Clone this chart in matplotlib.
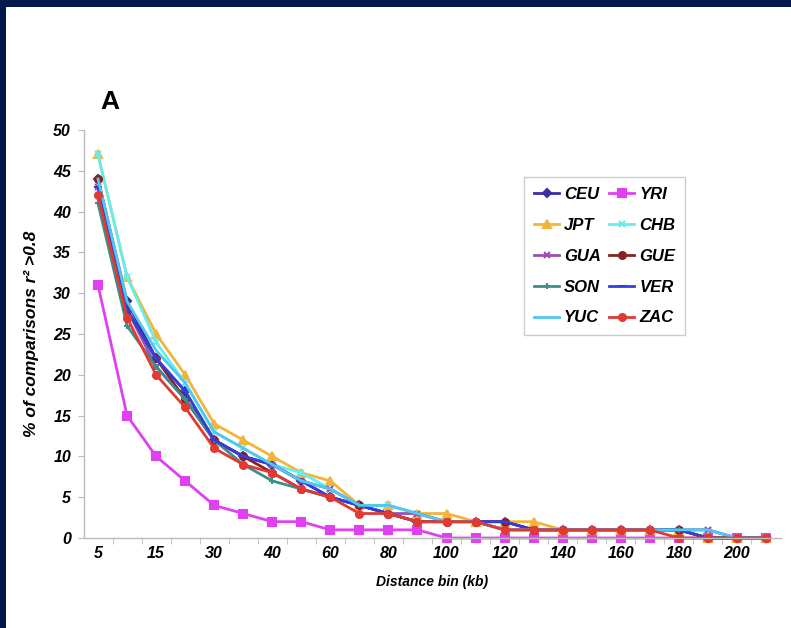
"""LD decay by distance bin, panel A."""

import matplotlib

matplotlib.use("Agg")

import matplotlib.pyplot as plt                 # noqa: E402
from matplotlib.patches import Rectangle       # noqa: E402

# distance bins (kb); Excel only labels every other category
bins = [5, 10, 15, 20, 30, 35, 40, 50, 60, 70, 80, 90, 100, 110, 120,
        130, 140, 150, 160, 170, 180, 190, 200, 210]

CEU = [44, 29, 22, 18, 12, 10, 9, 7, 5, 4, 3, 2, 2, 2, 2, 1, 1, 1, 1, 1, 1, 0, 0, 0]
YRI = [31, 15, 10, 7, 4, 3, 2, 2, 1, 1, 1, 1, 0, 0, 0, 0, 0, 0, 0, 0, 0, 0, 0, 0]
JPT = [47, 32, 25, 20, 14, 12, 10, 8, 7, 4, 4, 3, 3, 2, 2, 2, 1, 1, 1, 1, 1, 0, 0, 0]
CHB = [47, 32, 24, 19, 13, 11, 9, 8, 6, 4, 4, 3, 2, 2, 1, 1, 1, 1, 1, 1, 1, 1, 0, 0]
GUA = [43, 28, 21, 17, 12, 10, 9, 7, 6, 4, 3, 3, 2, 2, 1, 1, 1, 1, 1, 1, 1, 1, 0, 0]
GUE = [44, 28, 22, 17, 12, 10, 8, 6, 5, 4, 3, 2, 2, 2, 2, 1, 1, 1, 1, 1, 1, 0, 0, 0]
SON = [41, 26, 21, 17, 12, 9, 7, 6, 5, 4, 3, 2, 2, 2, 1, 1, 1, 1, 1, 1, 1, 0, 0, 0]
VER = [43, 28, 22, 18, 12, 10, 9, 7, 5, 4, 3, 2, 2, 2, 2, 1, 1, 1, 1, 1, 1, 0, 0, 0]
YUC = [44, 29, 23, 19, 13, 11, 9, 7, 6, 4, 4, 3, 2, 2, 1, 1, 1, 1, 1, 1, 1, 1, 0, 0]
ZAC = [42, 27, 20, 16, 11, 9, 8, 6, 5, 3, 3, 2, 2, 2, 1, 1, 1, 1, 1, 1, 0, 0, 0, 0]

# name, values, colour, marker, marker size
series = [
    ("CEU", CEU, "#3b2f9e", "D", 4),
    ("YRI", YRI, "#e040f0", "s", 6),
    ("JPT", JPT, "#f2b43a", "^", 6),
    ("CHB", CHB, "#66eeee", "x", 5),
    ("GUA", GUA, "#9b4fb0", "x", 5),
    ("GUE", GUE, "#8e1f1f", "o", 5),
    ("SON", SON, "#3a8f8a", "+", 5),
    ("VER", VER, "#2f3fe0", "_", 6),
    ("YUC", YUC, "#50c8f0", "", 0),
    ("ZAC", ZAC, "#e03a32", "o", 5),
]

FONT = "Liberation Sans"

fig = plt.figure(figsize=(7.91, 6.28), dpi=100, facecolor="#02184a")
fig.patches.append(Rectangle((6 / 791, 0), 1, 1 - 7 / 628, transform=fig.transFigure,
                             facecolor="white", edgecolor="none", zorder=-10))

ax = fig.add_axes([83.5 / 791, 90 / 628, 697 / 791, 408 / 628])
ax.set_facecolor("white")

x = list(range(len(bins)))
handles = {}
for name, vals, col, mk, ms in series:
    (ln,) = ax.plot(x, vals, color=col, lw=2, marker=mk, ms=ms,
                    mew=1.5, mec=col, mfc=col, label=name, clip_on=False)
    handles[name] = ln

ax.set_xlim(-0.5, len(bins) - 0.5)
ax.set_ylim(0, 50)
ax.set_yticks(range(0, 51, 5))
ax.set_xticks(x)
ax.set_xticklabels([str(b) if i % 2 == 0 else "" for i, b in enumerate(bins)])
ax.set_xticks([i + 0.5 for i in range(len(bins) - 1)], minor=True)
ax.tick_params(axis="x", which="major", length=0, pad=6)
ax.tick_params(axis="x", which="minor", length=4, color="#bbbbbb")
ax.tick_params(axis="y", length=4, color="#bbbbbb", pad=5)

for lab in ax.get_xticklabels() + ax.get_yticklabels():
    lab.set_fontfamily(FONT)
    lab.set_fontweight("bold")
    lab.set_fontstyle("italic")
    lab.set_fontsize(11.5)

for side in ("top", "right"):
    ax.spines[side].set_visible(False)
for side in ("left", "bottom"):
    ax.spines[side].set_color("#bbbbbb")
    ax.spines[side].set_linewidth(1)

ax.set_xlabel("Distance bin (kb)", labelpad=10, family=FONT, weight="bold",
              style="italic", size=10)
ax.set_ylabel("% of comparisons r\u00b2 >0.8", labelpad=10, family=FONT,
              weight="bold", style="italic", size=12.5)

fig.text(100 / 791, 1 - 102 / 628, "A", family=FONT, weight="bold", size=19,
         va="center", ha="left")

order = ["CEU", "JPT", "GUA", "SON", "YUC", "YRI", "CHB", "GUE", "VER", "ZAC"]
leg = fig.legend([handles[n] for n in order], order, ncol=2, loc="upper left",
                 bbox_to_anchor=(524 / 791, 1 - 177 / 628), borderaxespad=0,
                 prop=dict(family=FONT, weight="bold", style="italic", size=12),
                 handlelength=1.5, handletextpad=0.3, columnspacing=0.5,
                 labelspacing=0.95, borderpad=0.6, fancybox=False, framealpha=1)
leg.get_frame().set_edgecolor("#cccccc")
leg.get_frame().set_linewidth(1)

fig.savefig("out.png", dpi=100, facecolor=fig.get_facecolor())
plt.close(fig)
